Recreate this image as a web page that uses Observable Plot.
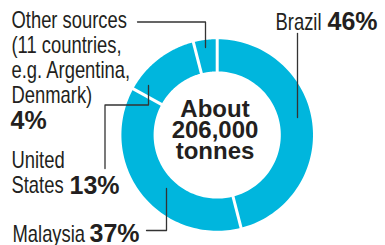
<!DOCTYPE html>
<html><head><meta charset="utf-8">
<script src="https://cdn.jsdelivr.net/npm/d3@7"></script>
<script src="https://cdn.jsdelivr.net/npm/@observablehq/plot@0.6"></script>
<style>
body{margin:0;background:#fff}
#chart svg{display:block;background:#fff}
</style>
</head><body><div id="chart"></div>
<script>
// ---- data ----
const sources = ["Brazil", "Malaysia", "United States", "Other sources"];
const shares = [46, 37, 13, 4];
const nameLines = [["Brazil"], ["Malaysia"], ["United", "States"], ["Other sources", "(11 countries,", "e.g. Argentina,", "Denmark)"]];
const totalTonnes = 206000;
const centerLines = ["About", d3.format(",")(totalTonnes), "tonnes"];

// ---- layout (pixels) ----
const W = 385, H = 245;
const cx = 216.7, cy = 134.5, R = 95.8, r0 = 63.6;
const ringColor = "#00b6dd";
const ink = "#231f20";
const regFont = "'Liberation Sans', Arial, sans-serif";
const boldFont = "'Liberation Sans', Arial, sans-serif";
const condense = 0.8;
const nameLayout = [
  {x: 321, y: 29, anchor: "end"},
  {x: 12, y: 241.5, anchor: "start"},
  {x: 11, y: 167, anchor: "start"},
  {x: 11, y: 27, anchor: "start"}
];
const lineStep = 25.2;
const pctLayout = [
  {x: 327, y: 29}, {x: 89, y: 241.5}, {x: 69, y: 193}, {x: 10, y: 128}
];
const leaders = [
  [[297, 33], [297, 117]],
  [[146, 230], [166, 230], [166, 188]],
  [[148, 85], [148, 104.5], [104.5, 104.5], [104.5, 168]],
  [[137, 21.5], [205, 21.5], [205, 47]]
];
const centerX = 214.5, centerY0 = 116.5, centerStep = 21;

// ---- build geometry from data ----
const rows = sources.map((s, i) => ({source: s, share: shares[i]}));
const arcs = d3.pie().sort(null).value(d => d.share)(rows);
const ringPts = [];
arcs.forEach(a => {
  const n = 80;
  for (let k = 0; k <= n; k++) {
    const t = a.startAngle + (a.endAngle - a.startAngle) * k / n;
    ringPts.push({source: a.data.source, x: cx + R * Math.sin(t), y: cy - R * Math.cos(t)});
  }
  for (let k = n; k >= 0; k--) {
    const t = a.startAngle + (a.endAngle - a.startAngle) * k / n;
    ringPts.push({source: a.data.source, x: cx + r0 * Math.sin(t), y: cy - r0 * Math.cos(t)});
  }
});
const seps = arcs.map(a => ({
  x1: cx + (r0 - 2) * Math.sin(a.startAngle), y1: cy - (r0 - 2) * Math.cos(a.startAngle),
  x2: cx + (R + 2) * Math.sin(a.startAngle), y2: cy - (R + 2) * Math.cos(a.startAngle)
}));
const nameTexts = [];
nameLines.forEach((lines, i) => lines.forEach((t, j) => nameTexts.push({
  text: t, x: nameLayout[i].x, y: nameLayout[i].y + j * lineStep, anchor: nameLayout[i].anchor
})));
const pctTexts = rows.map((d, i) => ({text: d.share + "%", x: pctLayout[i].x, y: pctLayout[i].y}));
const leaderPts = [];
leaders.forEach((pts, i) => pts.forEach(p => leaderPts.push({id: i, x: p[0], y: p[1]})));
const centerTexts = centerLines.map((t, i) => ({text: t, x: centerX, y: centerY0 + i * centerStep}));

const chart = Plot.plot({
  width: W, height: H, margin: 0,
  x: {domain: [0, W], range: [0, W], axis: null},
  y: {domain: [0, H], range: [0, H], axis: null},
  marks: [
    Plot.line(ringPts, {x: "x", y: "y", z: "source", fill: ringColor, stroke: "none", curve: "linear"}),
    Plot.link(seps, {x1: "x1", y1: "y1", x2: "x2", y2: "y2", stroke: "white", strokeWidth: 3}),
    Plot.line(leaderPts, {x: "x", y: "y", z: "id", stroke: "#333", strokeWidth: 1.3, curve: "linear"}),
    Plot.text(nameTexts.filter(d => d.anchor === "start"), {x: "x", y: "y", text: "text", textAnchor: "start", lineAnchor: "bottom", fontFamily: regFont, fontSize: 23, fill: ink}),
    Plot.text(nameTexts.filter(d => d.anchor === "end"), {x: "x", y: "y", text: "text", textAnchor: "end", lineAnchor: "bottom", fontFamily: regFont, fontSize: 23, fill: ink}),
    Plot.text(pctTexts, {x: "x", y: "y", text: "text", textAnchor: "start", lineAnchor: "bottom", fontFamily: boldFont, fontWeight: "bold", fontSize: 25, fill: ink}),
    Plot.text(centerTexts, {x: "x", y: "y", text: "text", textAnchor: "middle", lineAnchor: "bottom", fontFamily: boldFont, fontWeight: "bold", fontSize: 24, fill: ink})
  ]
});
// condense the regular-weight label text (first two text marks) horizontally about its anchor
d3.select(chart).selectAll('g[aria-label="text"]').filter((d, i) => i < 2).selectAll("text").each(function() {
  const tr = this.getAttribute("transform");
  if (tr) {
    this.setAttribute("transform", tr + ` scale(${condense},1)`);
  } else {
    const x = +this.getAttribute("x") || 0;
    this.setAttribute("transform", `translate(${x},0) scale(${condense},1) translate(${-x},0)`);
  }
});
document.getElementById("chart").appendChild(chart);
</script>
</body></html>
